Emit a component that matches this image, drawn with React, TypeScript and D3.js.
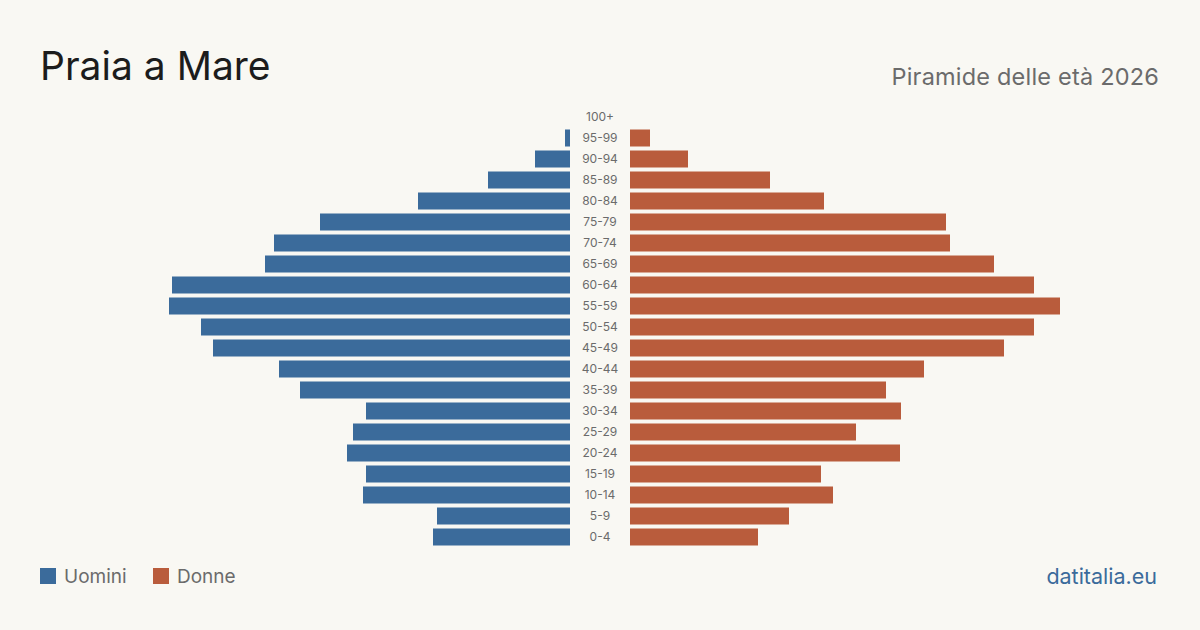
import { useEffect, useRef } from 'react'
import * as d3 from 'd3'

const ageGroups = ['100+', '95-99', '90-94', '85-89', '80-84', '75-79', '70-74', '65-69', '60-64', '55-59', '50-54', '45-49', '40-44', '35-39', '30-34', '25-29', '20-24', '15-19', '10-14', '5-9', '0-4']
const men = [0, 5, 35, 82, 152, 250, 296, 305, 398, 401, 369, 357, 291, 270, 204, 217, 223, 204, 207, 133, 137]
const women = [0, 20, 58, 140, 194, 316, 320, 364, 404, 430, 404, 374, 294, 256, 271, 226, 270, 191, 203, 159, 128]

const W = 1200
const H = 630
const BLUE = '#3b6b9b'
const ORANGE = '#b95c3c'
const FONT = 'Inter, "Noto Sans", sans-serif'

export default function App() {
  const svgRef = useRef<SVGSVGElement>(null)

  useEffect(() => {
    if (!svgRef.current) return
    const svg = d3.select(svgRef.current)
    svg.selectAll('*').remove()

    svg.append('rect').attr('width', W).attr('height', H).attr('fill', '#f9f8f3')

    // Titles
    svg.append('text')
      .attr('x', 40).attr('y', 80)
      .attr('font-family', FONT).attr('font-size', 39)
      .attr('fill', '#1c1c1c')
      .text('Praia a Mare')

    svg.append('text')
      .attr('x', 1159).attr('y', 85)
      .attr('text-anchor', 'end')
      .attr('font-family', FONT).attr('font-size', 23.5)
      .attr('letter-spacing', 0.2)
      .attr('fill', '#6b6b6b')
      .text('Piramide delle età 2026')

    const centerX = 600
    const gap = 30
    const maxVal = 430

    const y = d3.scaleBand<string>()
      .domain(ageGroups)
      .range([106.5, 547.5])
      .paddingInner(4 / 21)
      .paddingOuter(2 / 21)

    const xLeft = d3.scaleLinear().domain([0, maxVal]).range([centerX - gap, centerX - gap - 430])
    const xRight = d3.scaleLinear().domain([0, maxVal]).range([centerX + gap, centerX + gap + 430])

    const rows = ageGroups.map((g, i) => ({ g, m: men[i], f: women[i] }))

    svg.append('g').selectAll('rect')
      .data(rows.filter(d => d.m > 0))
      .join('rect')
      .attr('x', d => xLeft(d.m))
      .attr('y', d => y(d.g)!)
      .attr('width', d => xLeft(0) - xLeft(d.m))
      .attr('height', y.bandwidth())
      .attr('fill', BLUE)

    svg.append('g').selectAll('rect')
      .data(rows.filter(d => d.f > 0))
      .join('rect')
      .attr('x', xRight(0))
      .attr('y', d => y(d.g)!)
      .attr('width', d => xRight(d.f) - xRight(0))
      .attr('height', y.bandwidth())
      .attr('fill', ORANGE)

    svg.append('g').selectAll('text')
      .data(ageGroups)
      .join('text')
      .attr('x', centerX)
      .attr('y', d => y(d)! + y.bandwidth() / 2)
      .attr('dy', '0.35em')
      .attr('text-anchor', 'middle')
      .attr('font-family', FONT).attr('font-size', 12)
      .attr('fill', '#6b6b6b')
      .text(d => d)

    // Legend
    const legend = [{ label: 'Uomini', color: BLUE, x: 40 }, { label: 'Donne', color: ORANGE, x: 153 }]
    const lg = svg.append('g').selectAll('g').data(legend).join('g')
      .attr('transform', d => `translate(${d.x},568)`)
    lg.append('rect').attr('width', 16).attr('height', 16).attr('fill', d => d.color)
    lg.append('text')
      .attr('x', 24).attr('y', 8.5).attr('dy', '0.35em')
      .attr('font-family', FONT).attr('font-size', 19)
      .attr('fill', '#6b6b6b')
      .text(d => d.label)

    svg.append('text')
      .attr('x', 1157).attr('y', 584)
      .attr('text-anchor', 'end')
      .attr('font-family', FONT).attr('font-size', 21.5)
      .attr('fill', BLUE)
      .text('datitalia.eu')
  }, [])

  return <svg ref={svgRef} width={W} height={H} style={{ display: 'block', position: 'absolute', left: 0, top: 0 }} />
}
